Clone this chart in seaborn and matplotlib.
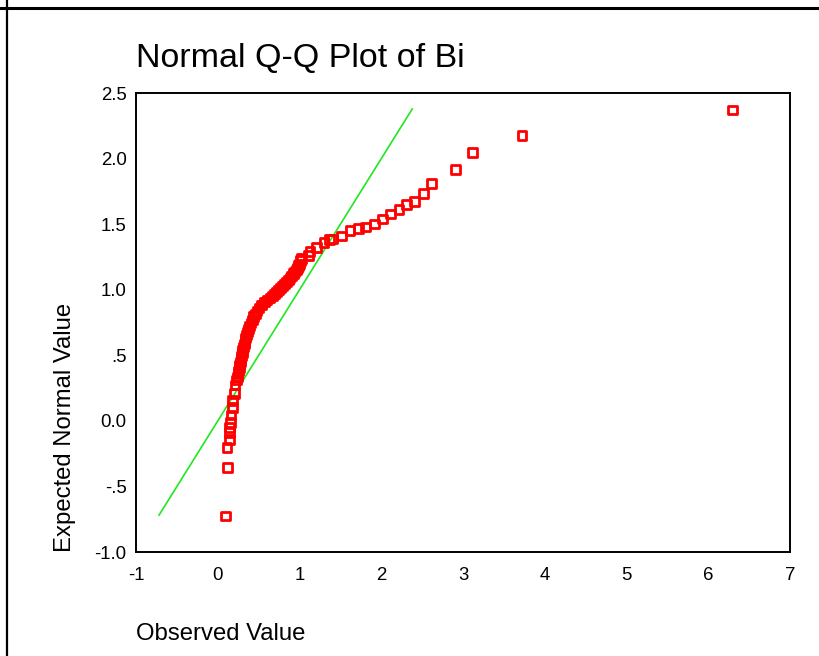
import numpy as np
import pandas as pd
import matplotlib
matplotlib.use("Agg")
import matplotlib.pyplot as plt
from matplotlib.lines import Line2D
import seaborn as sns

observed = [
    0.097, 0.122, 0.113, 0.141, 0.141, 0.141, 0.158, 0.162, 0.183, 0.183, 0.202, 0.211,
    0.229, 0.239, 0.248, 0.256, 0.264, 0.270, 0.277, 0.284, 0.292, 0.299, 0.306, 0.314,
    0.324, 0.333, 0.343, 0.354, 0.365, 0.377, 0.392, 0.407, 0.424, 0.441, 0.459, 0.480,
    0.505, 0.535, 0.572, 0.602, 0.639, 0.670, 0.694, 0.719, 0.743, 0.768, 0.792, 0.817,
    0.841, 0.863, 0.884, 0.905, 0.924, 0.943, 0.960, 0.976, 0.990, 1.004, 1.016,
    1.027, 1.108, 1.128, 1.210, 1.300, 1.365, 1.401, 1.511, 1.618, 1.719, 1.810, 1.920,
    2.013, 2.116, 2.217, 2.311, 2.409, 2.514, 2.617, 2.906, 3.114, 3.722, 6.299,
]
expected = [
    -0.725, -0.354, -0.201, -0.140, -0.090, -0.052, -0.011, 0.045, 0.104, 0.154, 0.211, 0.274,
    0.312, 0.335, 0.358, 0.381, 0.404, 0.426, 0.449, 0.472, 0.495, 0.518, 0.541, 0.564,
    0.587, 0.609, 0.632, 0.655, 0.678, 0.701, 0.724, 0.747, 0.770, 0.793, 0.815, 0.838,
    0.861, 0.884, 0.907, 0.922, 0.937, 0.953, 0.968, 0.983, 0.998, 1.014, 1.029, 1.044,
    1.059, 1.075, 1.090, 1.105, 1.121, 1.136, 1.151, 1.166, 1.182, 1.197, 1.220,
    1.240, 1.263, 1.291, 1.321, 1.359, 1.385, 1.387, 1.410, 1.451, 1.466, 1.479, 1.502,
    1.540, 1.578, 1.609, 1.647, 1.670, 1.736, 1.812, 1.919, 2.046, 2.175, 2.371,
]
# reference line y = x between the lowest and highest expected value
line_ends = [-0.72, 2.38]

x_ticks = [-1, 0, 1, 2, 3, 4, 5, 6, 7]
y_ticks = [-1.0, -0.5, 0.0, 0.5, 1.0, 1.5, 2.0, 2.5]
y_tick_labels = ['-1.0', '-.5', '0.0', '.5', '1.0', '1.5', '2.0', '2.5']

df = pd.DataFrame({'Observed Value': observed, 'Expected Normal Value': expected})

sns.set_style('white')
plt.rcParams['font.family'] = ['Liberation Sans', 'DejaVu Sans']
plt.rcParams['text.color'] = 'black'
plt.rcParams['axes.labelcolor'] = 'black'

fig = plt.figure(figsize=(8.2, 6.56), dpi=100)
ax = fig.add_axes([0.1659, 0.1585, 0.7976, 0.6997])

sns.lineplot(x=line_ends, y=line_ends, color='#1ee81e', linewidth=1.2, ax=ax)
sns.scatterplot(data=df, x='Observed Value', y='Expected Normal Value', marker='s', s=40,
                facecolor='none', edgecolor='#ff0000', linewidth=2.0, ax=ax, zorder=3)

ax.set_xlim(-1, 7)
ax.set_ylim(-1.0, 2.5)
ax.set_xticks(x_ticks)
ax.set_xticklabels([str(t) for t in x_ticks])
ax.set_yticks(y_ticks)
ax.set_yticklabels(y_tick_labels)
ax.tick_params(axis='both', direction='out', length=2.8, width=2.2, color='black',
               labelsize=13.4, labelcolor='black')
ax.tick_params(axis='x', pad=8)
ax.tick_params(axis='y', pad=4)

for side in ['left', 'bottom', 'top', 'right']:
    ax.spines[side].set_color('black')
    ax.spines[side].set_linewidth(1.4)

ax.set_xlabel('Observed Value', fontsize=17.2, loc='left', labelpad=28)
ax.set_ylabel('Expected Normal Value', fontsize=17.2, loc='bottom', labelpad=13)
ax.set_title('Normal Q-Q Plot of Bi', fontsize=24.5, loc='left', pad=19, color='black')

# outer frame lines (top and left)
fig.add_artist(Line2D([0, 1], [1 - 8 / 656, 1 - 8 / 656], color='black', linewidth=2.2))
fig.add_artist(Line2D([7 / 820, 7 / 820], [0, 1], color='black', linewidth=1.6))

plt.savefig('out.png', dpi=100)
